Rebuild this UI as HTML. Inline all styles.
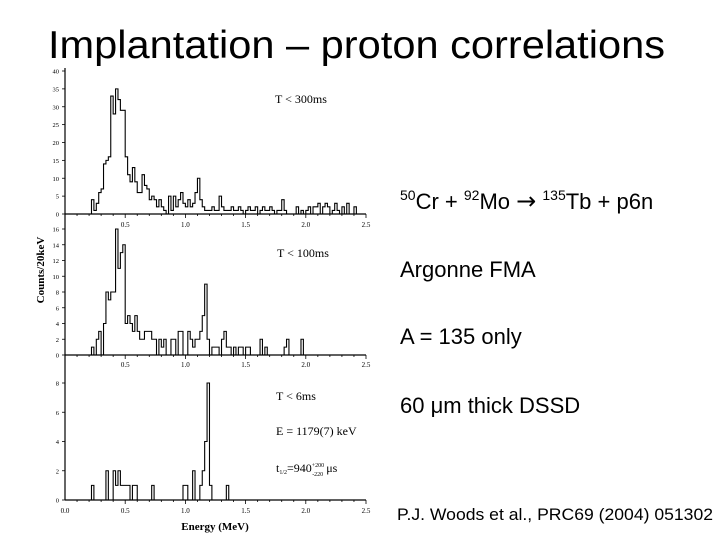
<!DOCTYPE html>
<html><head><meta charset="utf-8"><style>
html,body{margin:0;padding:0;background:#fff;width:720px;height:540px;overflow:hidden}
svg{display:block}
.t{font-family:"Liberation Sans",sans-serif}
.s{font-family:"Liberation Serif",serif}
</style></head><body>
<svg id="c" width="720" height="540" viewBox="0 0 720 540">
<text class="t" x="48" y="58" font-size="39" textLength="617" lengthAdjust="spacingAndGlyphs">Implantation – proton correlations</text>
<text class="t" x="400" y="209" font-size="22"><tspan font-size="14" dy="-9">50</tspan><tspan dy="9">Cr + </tspan><tspan font-size="14" dy="-9">92</tspan><tspan dy="9">Mo </tspan><tspan font-family="DejaVu Sans, sans-serif" font-size="24">→</tspan><tspan> </tspan><tspan font-size="14" dy="-9">135</tspan><tspan dy="9">Tb + p6n</tspan></text>
<text class="t" x="400" y="277" font-size="22">Argonne FMA</text>
<text class="t" x="400" y="344" font-size="22">A = 135 only</text>
<text class="t" x="400" y="413" font-size="22">60 μm thick DSSD</text>
<text class="t" x="397" y="520" font-size="17" textLength="316" lengthAdjust="spacingAndGlyphs">P.J. Woods et al., PRC69 (2004) 051302</text>
<text class="s" transform="translate(44,270) rotate(-90)" text-anchor="middle" font-size="11" font-weight="bold">Counts/20keV</text>
<text class="s" x="215" y="530" text-anchor="middle" font-size="11" font-weight="bold">Energy (MeV)</text>
<line x1="65" y1="68" x2="65" y2="500" stroke="#000" stroke-width="1.2"/>
<g id="plots"></g>
<g class="s" font-size="12">
<text x="275" y="103">T &lt; 300ms</text>
<text x="277" y="257">T &lt; 100ms</text>
<text x="276" y="400">T &lt; 6ms</text>
<text x="276" y="435">E = 1179(7) keV</text>
<text x="276" y="472">t<tspan font-size="6" dy="2">1/2</tspan><tspan dy="-2">=940</tspan><tspan font-size="6" dy="-5">+200</tspan><tspan font-size="6" dx="-12" dy="9">-220</tspan><tspan dy="-4"> μs</tspan></text>
</g>
</svg>
<script>
const binStart = 0.20, binWidth = 0.02;
const counts300 = [0,4,1,3,6,7,14,15,16,33,28,35,32,29,29,16,11,9,13,9,6,6,11,8,7,4,5,4,2,4,2,1,0,5,1,5,2,4,6,3,2,4,2,3,6,10,4,2,1,1,1,2,1,1,5,2,1,1,1,2,1,1,2,1,0,1,2,1,1,2,0,1,2,1,1,2,1,0,1,1,4,1,0,0,0,0,2,0,1,0,1,2,0,2,2,3,0,2,3,2,0,1,3,1,0,2,0,3,0,0,2,0];
const counts100 = [0,1,0,2,3,0,4,8,7,8,8,16,11,13,14,4,5,4,3,5,3,2,2,3,3,3,2,2,0,2,1,2,0,0,2,2,0,3,3,0,0,3,2,1,2,2,3,5,9,2,0,1,1,1,0,2,3,1,1,0,1,0,1,1,0,1,1,0,0,0,0,2,0,1,0,0,0,0,0,0,0,1,2,0,0,0,0,0,2,0];
const counts6 = [0,1,0,0,0,0,0,2,0,0,2,1,2,1,1,1,1,0,1,1,0,0,0,0,0,0,1,0,0,0,0,0,0,0,0,0,0,0,0,1,1,0,0,2,0,0,1,2,4,8,1,0,0,0,0,0,0,1,0];
const xTicks = [0.0,0.5,1.0,1.5,2.0,2.5];
const ticks300 = [0,5,10,15,20,25,30,35,40];
const ticks100 = [0,2,4,6,8,10,12,14,16];
const ticks6 = [0,2,4,6,8];
const NS='http://www.w3.org/2000/svg';
const g=document.getElementById('plots');
const X0=65,X1=366,XMAX=2.5;
const xs=v=>X0+v/XMAX*(X1-X0);
function mk(tag,attrs){const e=document.createElementNS(NS,tag);for(const k in attrs)e.setAttribute(k,attrs[k]);g.appendChild(e);return e;}
function panel(name,data,ticks,y0,yTop,ymax,xLabelY,showZero){
  const ys=v=>y0-v/ymax*(y0-yTop);
  const ax=mk('line',{x1:X0,y1:y0,x2:X1,y2:y0,stroke:'#000','stroke-width':1.2});
  
  
  for(let v=0.1;v<2.51;v+=0.1){
    const major=Math.abs(v*2-Math.round(v*2))<1e-6;
    const tk=mk('line',{x1:xs(v),y1:y0,x2:xs(v),y2:y0+(major?4:2),stroke:'#000','stroke-width':0.8});
    
    
  }
  xTicks.forEach(v=>{
    if(!showZero&&v===0)return;
    const t=mk('text',{x:xs(v),y:xLabelY,'text-anchor':'middle','font-size':7,'font-family':'Liberation Serif,serif'});
    t.textContent=v.toFixed(1);
    
    
  });
  ticks.forEach(v=>{
    const tk=mk('line',{x1:X0-3,y1:ys(v),x2:X0,y2:ys(v),stroke:'#000','stroke-width':0.8});
    
    
    const t=mk('text',{x:X0-6,y:ys(v)+2.5,'text-anchor':'end','font-size':6.5,'font-family':'Liberation Serif,serif'});
    t.textContent=v;
    
    
  });
  let d='M'+xs(binStart)+','+y0;
  data.forEach((c,i)=>{
    const a=xs(binStart+i*binWidth),b=xs(binStart+(i+1)*binWidth);
    d+=' L'+a+','+ys(c)+' L'+b+','+ys(c);
  });
  d+=' L'+xs(binStart+data.length*binWidth)+','+y0;
  const p=mk('path',{d:d,fill:'none',stroke:'#000','stroke-width':1.1});
  
  
}
panel('panel-300ms',counts300,ticks300,214,71,40,227,false);
panel('panel-100ms',counts100,ticks100,355,229,16,367,false);
panel('panel-6ms',counts6,ticks6,500,383,8,513,true);
</script>
</body></html>
